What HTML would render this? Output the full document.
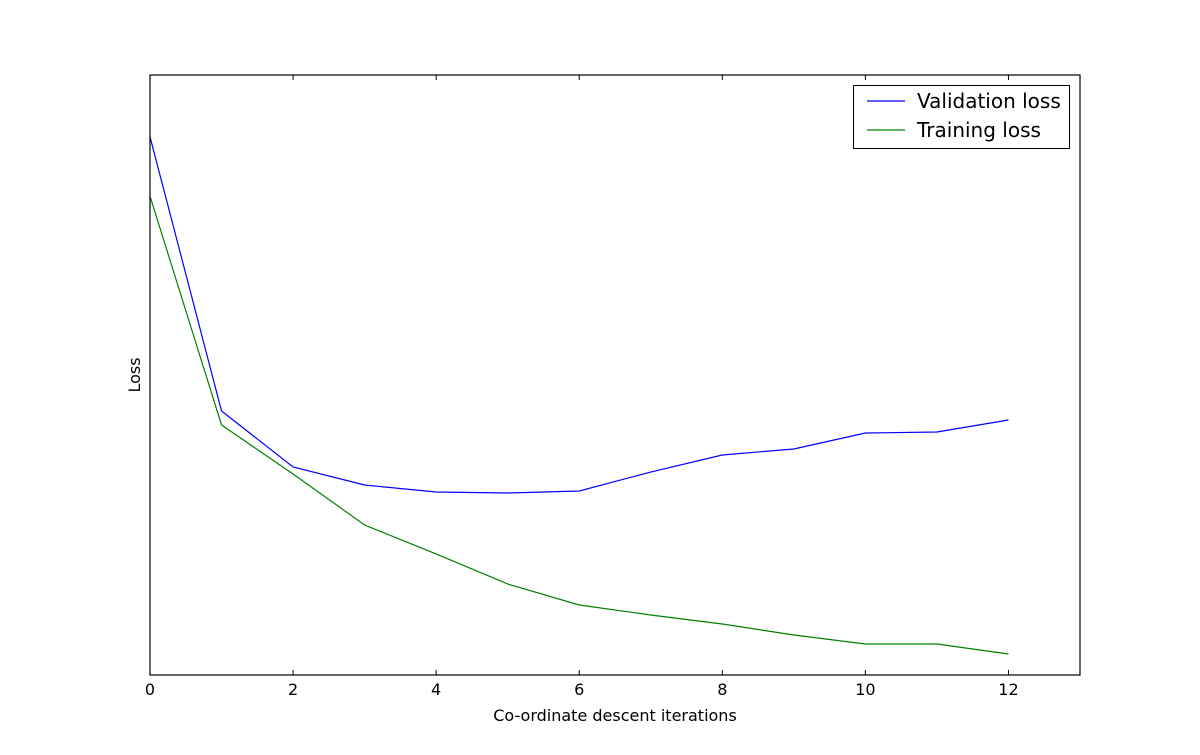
<!DOCTYPE html>
<html><head><meta charset="utf-8"><style>
html,body{margin:0;padding:0;background:#fff;}
svg text{font-family:"DejaVu Sans","Liberation Sans",sans-serif;}
</style></head><body>
<svg width="1200" height="750" xmlns="http://www.w3.org/2000/svg">
<rect width="1200" height="750" fill="#fff"/>
<g id="plot"></g>
<rect x="150" y="75" width="930" height="600" fill="none" stroke="#000" stroke-width="1.2"/>
<g id="ticks"></g>
<text x="615" y="721" font-size="16" text-anchor="middle">Co-ordinate descent iterations</text>
<text x="140" y="375" font-size="16" text-anchor="middle" transform="rotate(-90 140 375)">Loss</text>
<g>
<rect x="853.5" y="85.5" width="216" height="63" fill="#fff" stroke="#000" stroke-width="1"/>
<line x1="867" y1="101" x2="905" y2="101" stroke="#0000ff" stroke-width="1.2"/>
<text x="917" y="108" font-size="20">Validation loss</text>
<line x1="867" y1="130" x2="905" y2="130" stroke="#008000" stroke-width="1.2"/>
<text x="917" y="137" font-size="20">Training loss</text>
</g>
</svg>
<script>
const iterations = [0,1,2,3,4,5,6,7,8,9,10,11,12];
const validationLoss = [89.7,44,34.67,31.67,30.5,30.33,30.67,33.83,36.67,37.67,40.33,40.5,42.5];
const trainingLoss = [79.8,41.67,33.5,25,20.17,15.17,11.67,10,8.5,6.67,5.17,5.17,3.5];
const xTicks = [0,2,4,6,8,10,12];
const xDomain = [0,13], yDomain = [0,100];
const L=150,R=1080,T=75,B=675;
const xs = v => L + (v-xDomain[0])/(xDomain[1]-xDomain[0])*(R-L);
const ys = v => B - (v-yDomain[0])/(yDomain[1]-yDomain[0])*(B-T);
const NS="http://www.w3.org/2000/svg";
const plot=document.getElementById('plot');
function line(vals,color,name){
  const p=document.createElementNS(NS,'polyline');
  p.setAttribute('points',vals.map((v,i)=>xs(iterations[i])+','+ys(v)).join(' '));
  p.setAttribute('fill','none');p.setAttribute('stroke',color);p.setAttribute('stroke-width','1.2');
  
  
  plot.appendChild(p);
}
line(validationLoss,'#0000ff','validation-loss-line');
line(trainingLoss,'#008000','training-loss-line');
const tg=document.getElementById('ticks');
xTicks.forEach(t=>{
  const x=xs(t);
  [[B,B-5],[T,T+5]].forEach(([a,b])=>{
    const l=document.createElementNS(NS,'line');
    l.setAttribute('x1',x);l.setAttribute('x2',x);l.setAttribute('y1',a);l.setAttribute('y2',b);
    l.setAttribute('stroke','#000');l.setAttribute('stroke-width','1');
    
    
    tg.appendChild(l);
  });
  const tx=document.createElementNS(NS,'text');
  tx.setAttribute('x',x);tx.setAttribute('y',695);tx.setAttribute('font-size','16');tx.setAttribute('text-anchor','middle');
  tx.textContent=t;
  
  
  tg.appendChild(tx);
});
</script>
</body></html>
